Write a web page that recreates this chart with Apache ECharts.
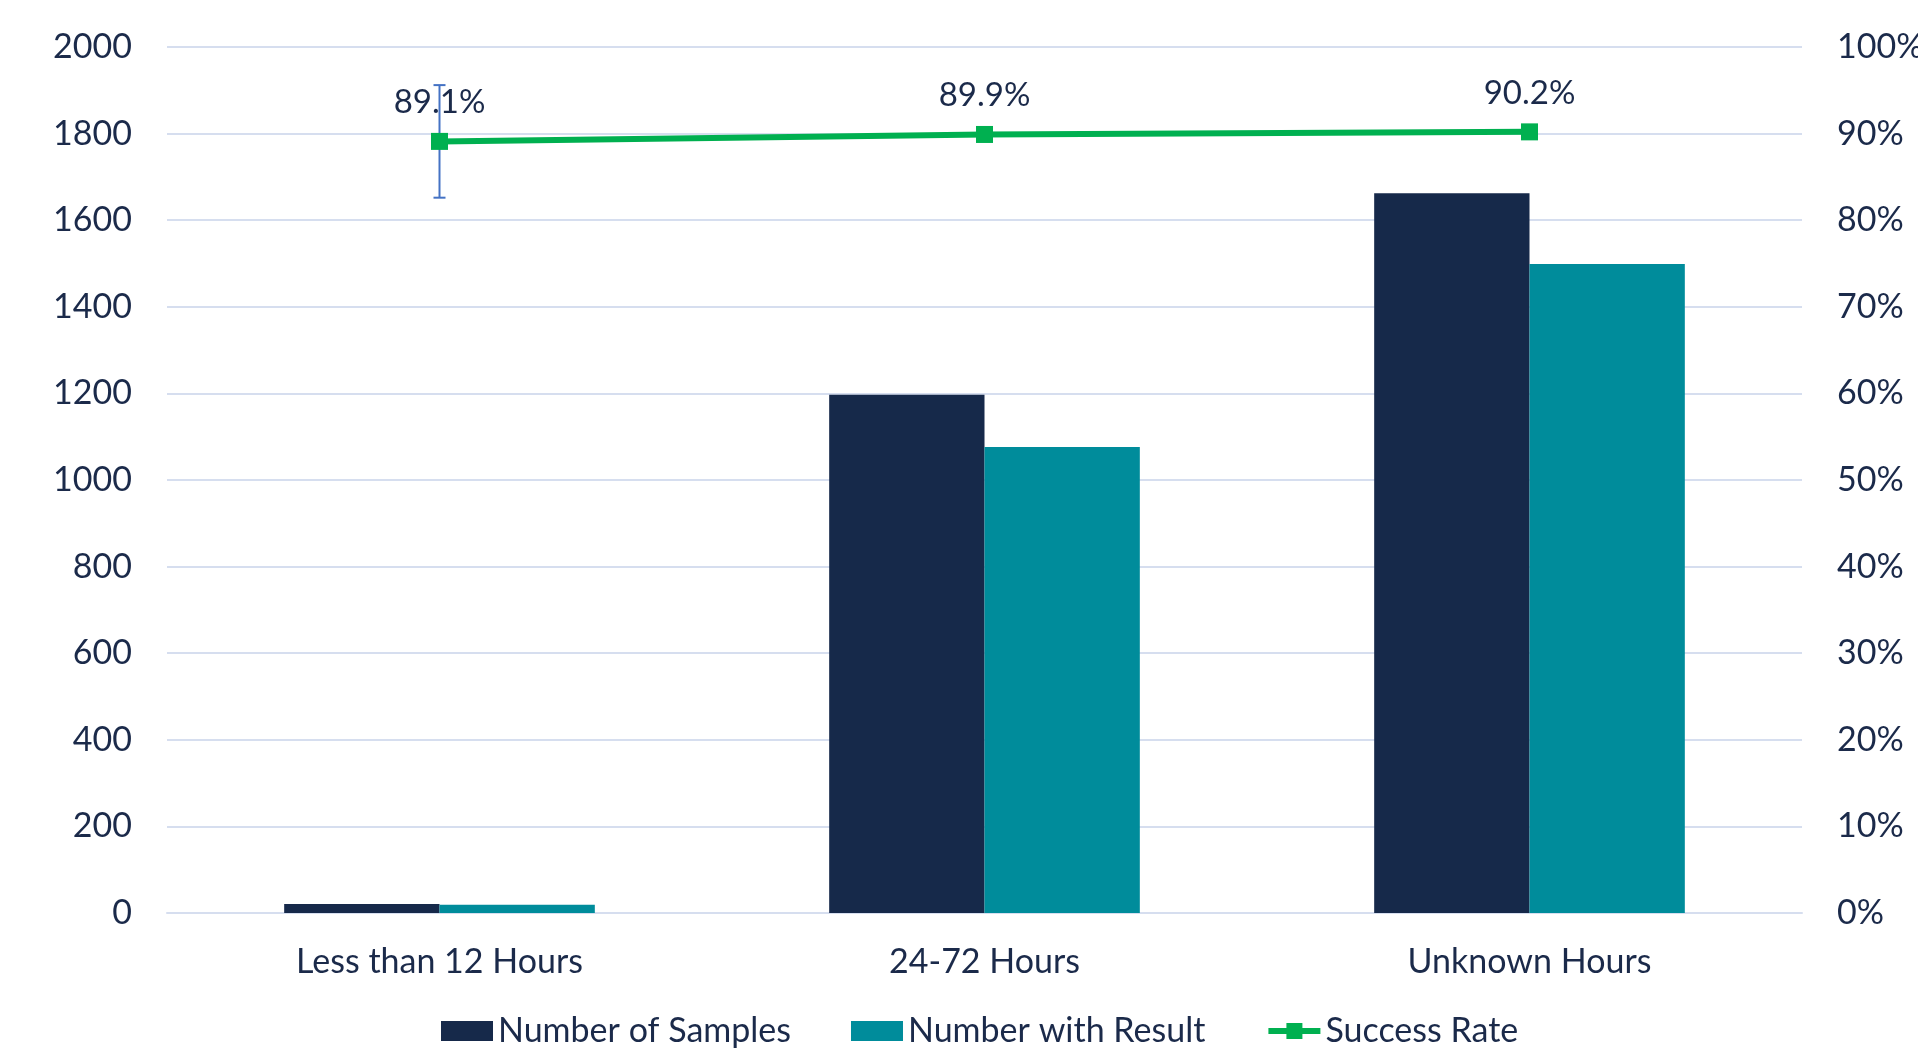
<!DOCTYPE html>
<html>
<head>
<meta charset="utf-8">
<script src="https://cdn.jsdelivr.net/npm/echarts@6/dist/echarts.min.js"></script>
<style>
    html, body { margin: 0; padding: 0; background: #fff; }
    #chart { width: 1918px; height: 1053px; }
</style>
</head>
<body>
<div id="chart"></div>
<script>
var categories = ['Less than 12 Hours', '24-72 Hours', 'Unknown Hours'];
var samples = [21, 1197, 1662];
var withResult = [19, 1076, 1499];
var successRate = [89.1, 89.9, 90.2];
// error margin on the rate (only the first point has one)
var rateError = [6.5, null, null];

var textColor = '#1B2A4A';
var gridColor = '#D6DEEF';
var fontName = 'Lato';

var errData = [];
for (var i = 0; i < categories.length; i++) {
    if (rateError[i] != null) {
        errData.push([i, successRate[i] - rateError[i], successRate[i] + rateError[i]]);
    }
}

var chart = echarts.init(document.getElementById('chart'));
var option = {
    animation: false,
    textStyle: { fontFamily: fontName },
    grid: { left: 167, right: 116, top: 47, bottom: 140, outerBoundsMode: 'none', containLabel: false },
    legend: {
        top: 1009,
        left: 436,
        itemGap: 60,
        itemWidth: 52,
        itemHeight: 20,
        textStyle: { fontSize: 34, color: textColor, fontFamily: fontName },
        data: [
            { name: 'Number of Samples', icon: 'rect' },
            { name: 'Number with Result', icon: 'rect' },
            { name: 'Success Rate', lineStyle: { width: 6, color: '#00B050' } }
        ]
    },
    xAxis: {
        type: 'category',
        data: categories,
        axisTick: { show: false },
        axisLine: { lineStyle: { color: gridColor, width: 2 } },
        axisLabel: { color: textColor, fontSize: 34, margin: 32 }
    },
    yAxis: [
        {
            type: 'value',
            min: 0, max: 2000, interval: 200,
            axisLine: { show: false },
            axisTick: { show: false },
            splitLine: { lineStyle: { color: gridColor, width: 2 } },
            axisLabel: { color: textColor, fontSize: 34, margin: 35, formatter: function (v) { return String(v); } }
        },
        {
            type: 'value',
            min: 0, max: 100, interval: 10,
            axisLine: { show: false },
            axisTick: { show: false },
            splitLine: { show: false },
            axisLabel: { color: textColor, fontSize: 34, margin: 35, formatter: '{value}%' }
        }
    ],
    series: [
        {
            name: 'Number of Samples',
            type: 'bar',
            data: samples,
            barGap: '0%',
            barCategoryGap: '43%',
            itemStyle: { color: '#16294A' }
        },
        {
            name: 'Number with Result',
            type: 'bar',
            data: withResult,
            itemStyle: { color: '#008C9B' }
        },
        {
            name: 'Error',
            type: 'custom',
            yAxisIndex: 1,
            z: 3,
            data: errData,
            renderItem: function (params, api) {
                var x = api.coord([api.value(0), api.value(1)])[0];
                var lo = api.coord([api.value(0), api.value(1)])[1];
                var hi = api.coord([api.value(0), api.value(2)])[1];
                var cap = 6;
                var st = { stroke: '#4472C4', lineWidth: 2 };
                return {
                    type: 'group',
                    children: [
                        { type: 'line', shape: { x1: x, y1: lo, x2: x, y2: hi }, style: st },
                        { type: 'line', shape: { x1: x - cap, y1: lo, x2: x + cap, y2: lo }, style: st },
                        { type: 'line', shape: { x1: x - cap, y1: hi, x2: x + cap, y2: hi }, style: st }
                    ]
                };
            }
        },
        {
            name: 'Success Rate',
            type: 'line',
            yAxisIndex: 1,
            z: 5,
            data: successRate,
            symbol: 'rect',
            symbolSize: 17,
            lineStyle: { color: '#00B050', width: 6 },
            itemStyle: { color: '#00B050' },
            label: {
                show: true,
                position: 'top',
                distance: 14,
                color: textColor,
                fontSize: 33,
                formatter: function (p) { return p.value.toFixed(1) + '%'; }
            }
        }
    ]
};
chart.setOption(option);
</script>
</body>
</html>
